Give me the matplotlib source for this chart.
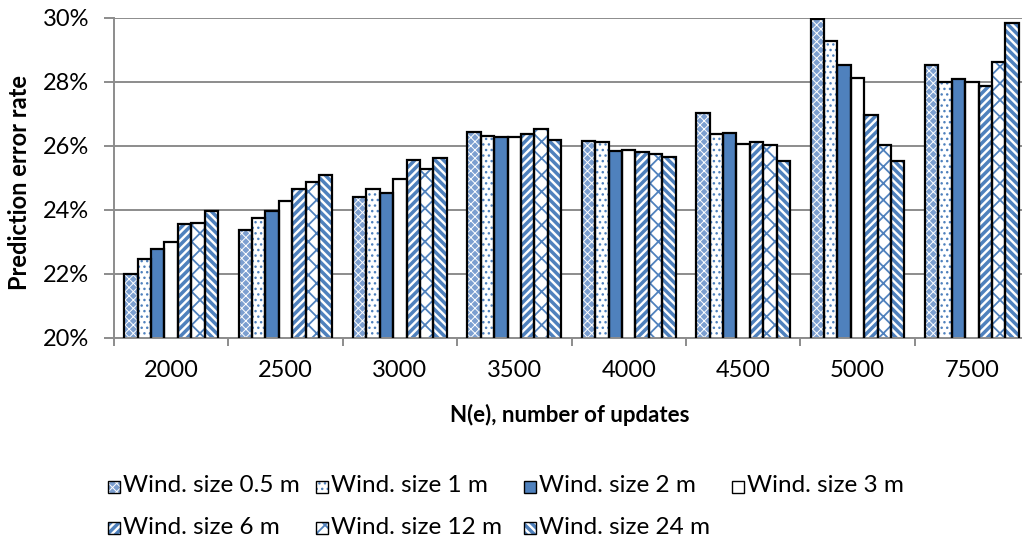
import matplotlib
matplotlib.use("Agg")
import matplotlib.pyplot as plt
from matplotlib.patches import Rectangle
from matplotlib.ticker import FixedLocator, FuncFormatter

# ---- data (prediction error rate, %) ----
categories = ["2000", "2500", "3000", "3500", "4000", "4500", "5000", "7500"]
series_labels = ["Wind. size 0.5 m", "Wind. size 1 m", "Wind. size 2 m", "Wind. size 3 m",
                 "Wind. size 6 m", "Wind. size 12 m", "Wind. size 24 m"]
wind_05 = [22.00, 23.37, 24.41, 26.45, 26.15, 27.02, 29.97, 28.53]
wind_1 = [22.46, 23.74, 24.65, 26.31, 26.13, 26.38, 29.29, 28.00]
wind_2 = [22.77, 23.97, 24.54, 26.29, 25.84, 26.41, 28.53, 28.10]
wind_3 = [23.00, 24.27, 24.98, 26.28, 25.87, 26.05, 28.12, 28.00]
wind_6 = [23.56, 24.65, 25.56, 26.36, 25.80, 26.12, 26.98, 27.86]
wind_12 = [23.58, 24.87, 25.27, 26.52, 25.74, 26.04, 26.03, 28.61]
wind_24 = [23.98, 25.10, 25.61, 26.18, 25.66, 25.53, 25.54, 29.83]
series = [wind_05, wind_1, wind_2, wind_3, wind_6, wind_12, wind_24]
y_ticks = [20, 22, 24, 26, 28, 30]

# ---- styling ----
BLUE = "#4F81BD"
GRID = "#8C8C8C"
FONT = "Lato"
styles = [
    dict(face="#7C9FD0", hatch="xxxx", hc="white", hlw=0.7),
    dict(face="white", hatch="...", hc=BLUE, hlw=1.0),
    dict(face=BLUE, hatch=None, hc=BLUE, hlw=1.0),
    dict(face="white", hatch=None, hc=BLUE, hlw=1.0),
    dict(face="white", hatch="////", hc=BLUE, hlw=2.5),
    dict(face="white", hatch="xx", hc=BLUE, hlw=1.3),
    dict(face="white", hatch="\\\\\\\\", hc=BLUE, hlw=2.5),
]

W, H = 1022, 546
fig = plt.figure(figsize=(W / 100, H / 100), dpi=100)
# plot area in pixels: x 114..1029, y 18..338 (top-down)
ax = fig.add_axes([114 / W, 1 - 338 / H, 915 / W, 320 / H])


def style_patch(p, st):
    if st["hatch"]:
        p.set_hatch(st["hatch"])
        if hasattr(p, "set_hatch_linewidth"):
            p.set_hatch_linewidth(st["hlw"])


n = len(series)
bw = 0.117
xs = list(range(len(categories)))
for j, (vals, st) in enumerate(zip(series, styles)):
    pos = [i + 0.5 + (j - (n - 1) / 2) * bw for i in xs]
    with plt.rc_context({"hatch.linewidth": st["hlw"]}):
        fill = ax.bar(pos, vals, width=bw, color=st["face"], edgecolor=st["hc"],
                      linewidth=0, zorder=2)
    for p in fill:
        style_patch(p, st)
    ax.bar(pos, vals, width=bw, fill=False, edgecolor="black", linewidth=1.6, zorder=3)

ax.set_xlim(0, len(categories))
ax.set_ylim(20, 30)

# axes decoration
for s in ("top", "right"):
    ax.spines[s].set_visible(False)
for s in ("left", "bottom"):
    ax.spines[s].set_color(GRID)
    ax.spines[s].set_linewidth(1.4)
ax.yaxis.set_major_locator(FixedLocator(y_ticks))
ax.yaxis.set_major_formatter(FuncFormatter(lambda v, _: f"{v:.0f}%"))
ax.yaxis.grid(True, color=GRID, linewidth=1.4, zorder=0)
ax.set_axisbelow(True)
ax.tick_params(axis="y", length=7, width=1.4, color=GRID, direction="out",
               labelsize=17, pad=11)
ax.xaxis.set_major_locator(FixedLocator(list(range(len(categories) + 1))))
ax.xaxis.set_major_formatter(FuncFormatter(lambda v, _: ""))
ax.xaxis.set_minor_locator(FixedLocator([i + 0.5 for i in xs]))
ax.set_xticklabels(categories, minor=True)
ax.tick_params(axis="x", which="major", length=6, width=1.4, color=GRID, direction="out")
ax.tick_params(axis="x", which="minor", length=0, labelsize=17, pad=16)
for lab in ax.get_xticklabels(minor=True) + ax.get_yticklabels():
    lab.set_fontfamily(FONT)

fig.text(570 / W, 1 - 415 / H, "N(e), number of updates", ha="center", va="center",
         fontsize=16, fontweight="bold", family=FONT)
fig.text(20 / W, 1 - 183 / H, "Prediction error rate", ha="center", va="center",
         rotation=90, fontsize=17, fontweight="bold", family=FONT)

# legend, laid out in two rows
cols_x = [108, 316, 524, 732]
rows_y = [487, 528]
for k, (lab, st) in enumerate(zip(series_labels, styles)):
    r, c = divmod(k, 4)
    x0, yc = cols_x[c], rows_y[r]
    with plt.rc_context({"hatch.linewidth": st["hlw"]}):
        m = Rectangle((x0 / W, 1 - (yc + 6) / H), 12 / W, 12 / H, transform=fig.transFigure,
                      facecolor=st["face"], edgecolor=st["hc"], linewidth=0)
    style_patch(m, st)
    fig.add_artist(m)
    fig.add_artist(Rectangle((x0 / W, 1 - (yc + 6) / H), 12 / W, 12 / H,
                             transform=fig.transFigure, fill=False,
                             edgecolor="black", linewidth=1.0))
    fig.text((x0 + 15) / W, 1 - (yc - 1) / H, lab, ha="left", va="center", fontsize=17.5,
             family=FONT)

fig.savefig("out.png", dpi=100)
